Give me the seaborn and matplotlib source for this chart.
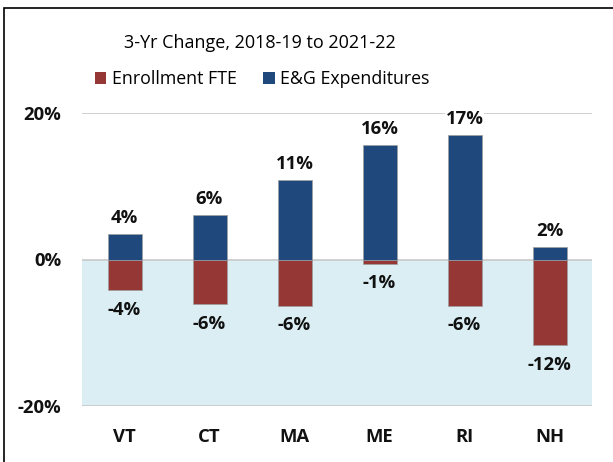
import matplotlib
matplotlib.use("Agg")
import matplotlib.pyplot as plt
import seaborn as sns
import pandas as pd
from matplotlib.patches import Rectangle, Patch

states = ["VT", "CT", "MA", "ME", "RI", "NH"]
enrollment = [-4.2, -6.1, -6.3, -0.6, -6.3, -11.7]
expenditures = [3.5, 6.1, 10.8, 15.6, 17.0, 1.7]
series = ["Enrollment FTE", "E&G Expenditures"]
colors = {"Enrollment FTE": "#953735", "E&G Expenditures": "#1F497D"}
yticks = [-20, 0, 20]

df = pd.DataFrame({
    "state": states * 2,
    "value": enrollment + expenditures,
    "series": [series[0]] * len(states) + [series[1]] * len(states),
})

sns.set_theme(style="white")
plt.rcParams["font.family"] = ["Open Sans", "DejaVu Sans"]

fig = plt.figure(figsize=(6.13, 4.62), dpi=100)
ax = fig.add_axes([82 / 613, 1 - 406 / 462, (592 - 82) / 613, (406 - 113) / 462])

ax.axhspan(-20, 0, color="#DAEEF3", zorder=0, lw=0)
for t in yticks:
    ax.axhline(t, color="#C8C8C8", lw=1.2, zorder=0.5)

sns.barplot(data=df, x="state", y="value", hue="series", palette=colors,
            dodge=False, width=0.4, ax=ax, legend=False, zorder=2, saturation=1,
            edgecolor="#A0A0A0", linewidth=0.5)

LBL = dict(fontsize=13.3, fontweight="bold", color="#111111")

ax.set_ylim(-20, 20)
ax.set_xlim(-0.5, len(states) - 0.5)
ax.set_yticks(yticks)
ax.set_yticklabels([f"{t}%" for t in yticks], **LBL)
ax.tick_params(axis="y", pad=15, length=0)
ax.tick_params(axis="x", pad=16, length=0)
ax.set_xticks(range(len(states)))
ax.set_xticklabels(states, **LBL)
ax.set_xlabel("")
ax.set_ylabel("")
for s in ax.spines.values():
    s.set_visible(False)

for i, (e, g) in enumerate(zip(enrollment, expenditures)):
    ax.annotate(f"{round(g):d}%", (i, g), xytext=(0, 5), textcoords="offset points",
                ha="center", va="bottom",
                bbox=dict(boxstyle="square,pad=0.05", fc="white", ec="none") if g > 15 else None,
                zorder=5, **LBL)
    ax.annotate(f"{round(e):d}%", (i, e), xytext=(0, -7.5), textcoords="offset points",
                ha="center", va="top", zorder=5, **LBL)

fig.text(260 / 613, 1 - 43 / 462, "3-Yr Change, 2018-19 to 2021-22", ha="center", va="center",
         fontsize=13, color="black")
handles = [Patch(facecolor=colors[s], edgecolor="none") for s in series]
leg = fig.legend(handles, series, loc="center", bbox_to_anchor=(262 / 613, 1 - 79 / 462), ncol=2,
                 frameon=False, prop=dict(size=12.8), handlelength=0.65,
                 handleheight=0.65, handletextpad=0.3, columnspacing=1.5)
for t in leg.get_texts():
    t.set_color("black")

fig.patches.append(Rectangle((3.5 / 613, -0.1), 1.2, 1 - 7.5 / 462 + 0.1,
                             transform=fig.transFigure, fill=False, ec="black", lw=1.2))

fig.savefig("out.png", dpi=100)
